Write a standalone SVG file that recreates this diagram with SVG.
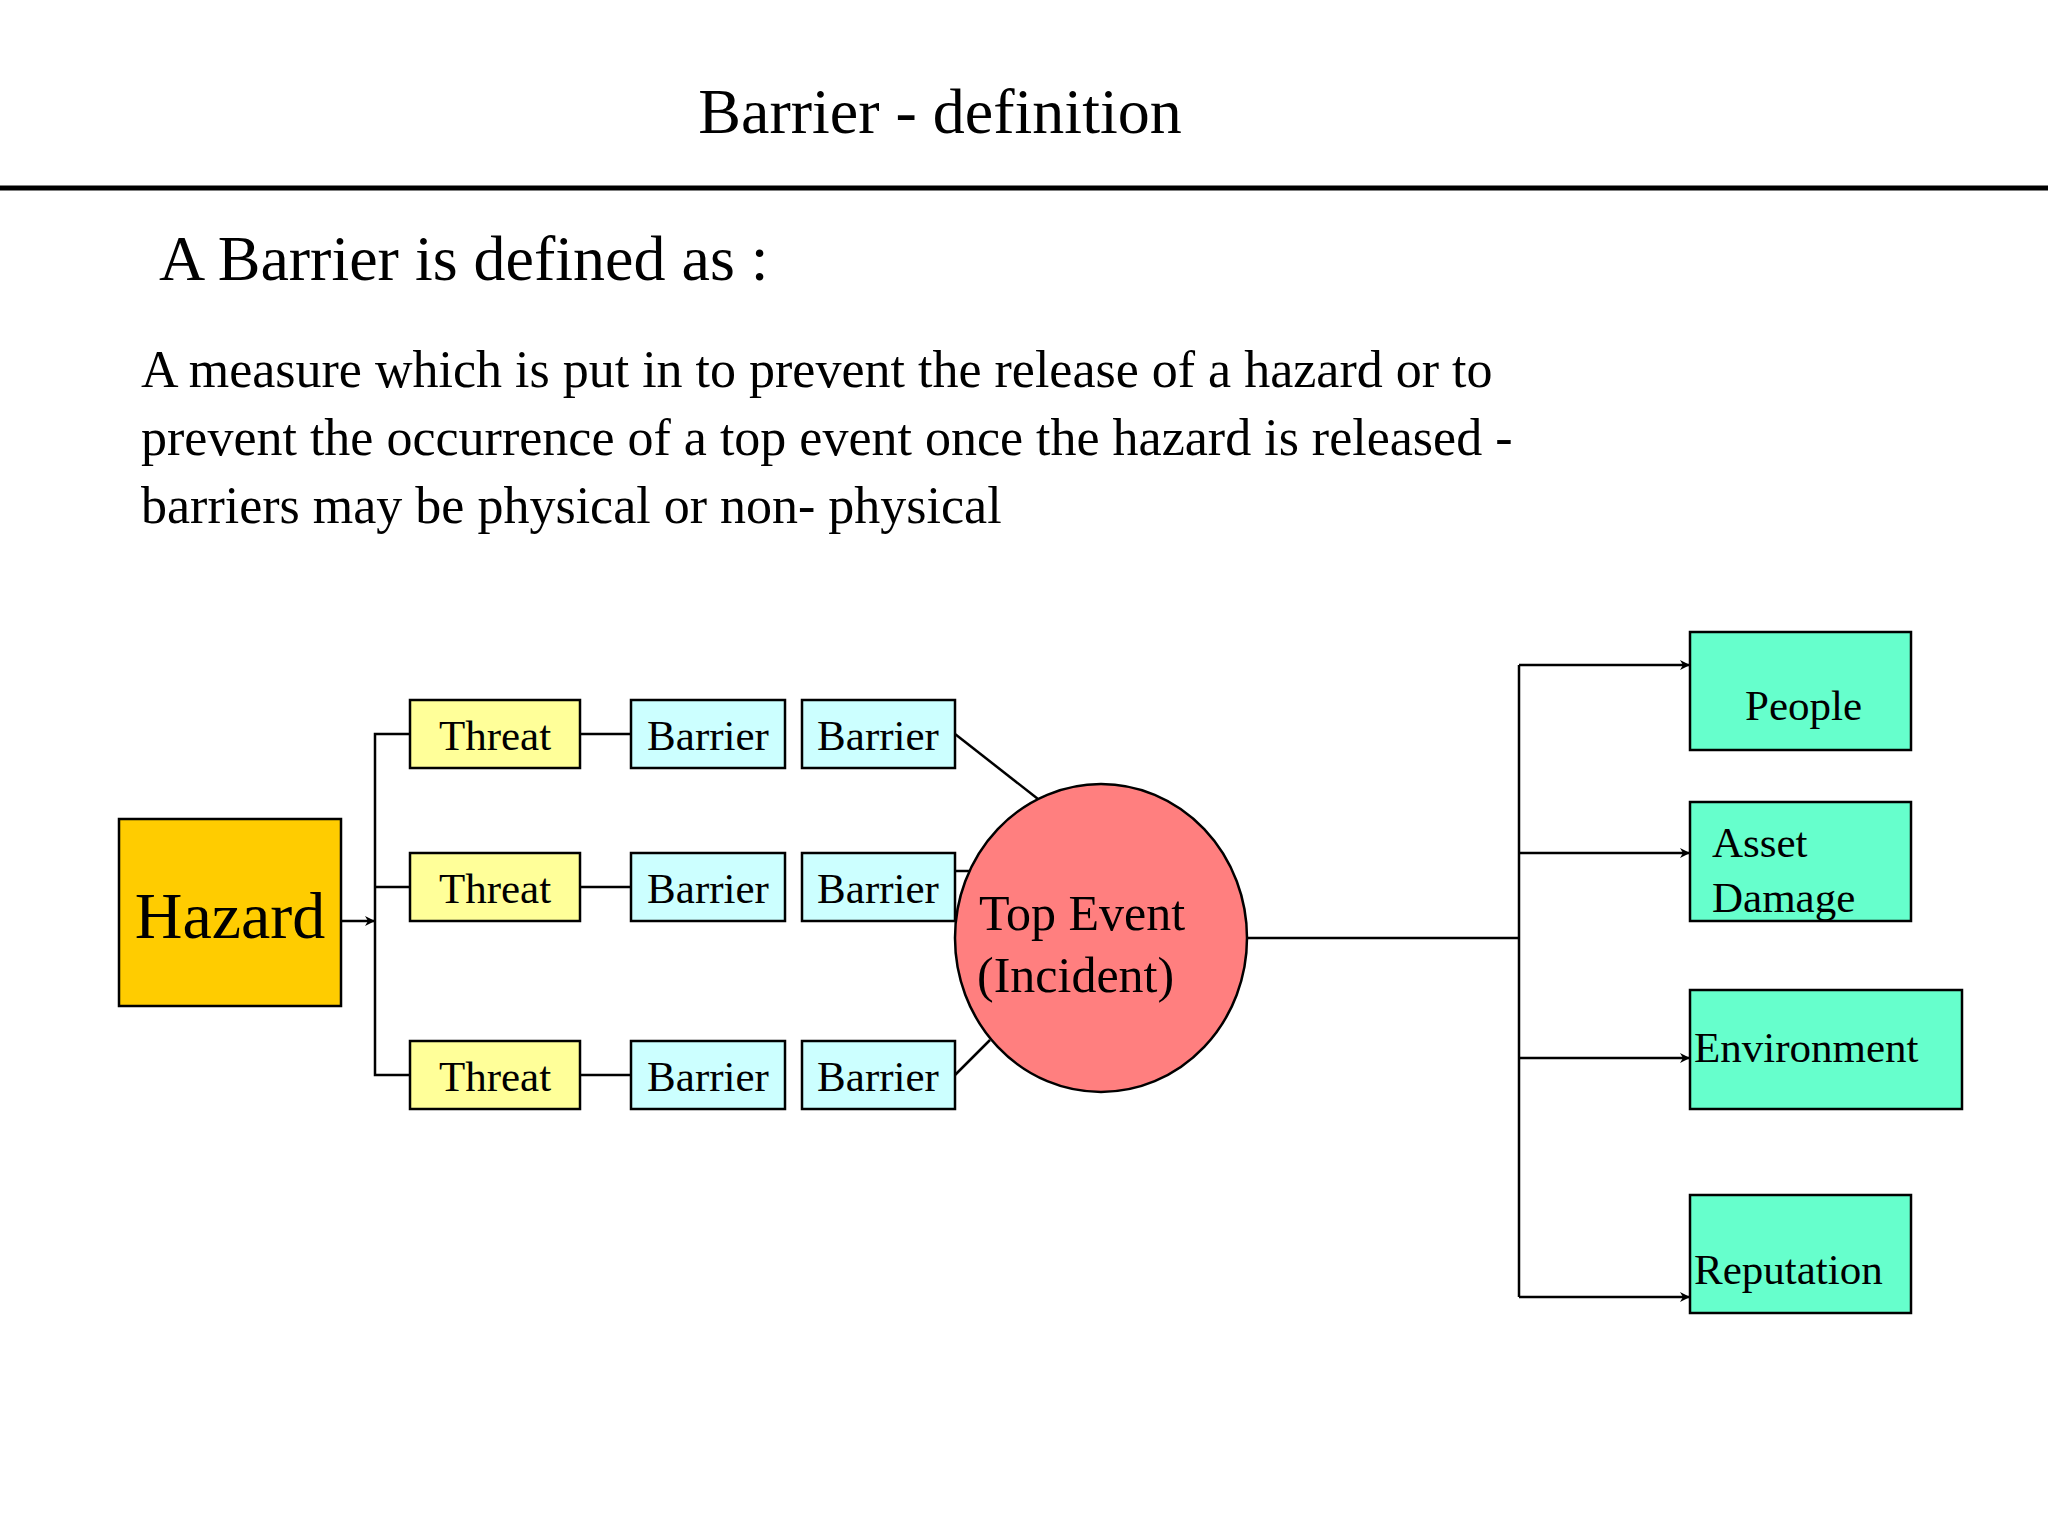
<svg xmlns="http://www.w3.org/2000/svg" width="2048" height="1536" viewBox="0 0 2048 1536">
<defs>
<marker id="ar" viewBox="0 0 10 10" refX="10" refY="5" markerWidth="10" markerHeight="10" markerUnits="userSpaceOnUse" orient="auto"><path d="M0,0 L10,5 L0,10 L3,5 z" fill="#000"/></marker>
</defs>
<style>
text{font-family:"Liberation Serif","Times New Roman",serif;fill:#000}
.b{stroke:#000;stroke-width:2.5}
.t{fill:#FFFF99}.br{fill:#CCFFFF}.c{fill:#66FFCC}
.l{stroke:#000;stroke-width:2.5;fill:none}
.s{font-size:43px}
</style>
<rect width="2048" height="1536" fill="#fff"/>
<text x="940" y="133" font-size="64" text-anchor="middle">Barrier - definition</text>
<line x1="0" y1="188" x2="2048" y2="188" stroke="#000" stroke-width="5"/>
<text x="159" y="280" font-size="64">A Barrier is defined as :</text>
<text font-size="52"><tspan x="141" y="387">A measure which is put in to prevent the release of a hazard or to</tspan><tspan x="141" y="455">prevent the occurrence of a top event once the hazard is released -</tspan><tspan x="141" y="523">barriers may be physical or non- physical</tspan></text>
<g id="connectors">
<line class="l" x1="341" y1="921" x2="375" y2="921" marker-end="url(#ar)"/>
<polyline class="l" points="410,734 375,734 375,1075 410,1075"/>
<line class="l" x1="375" y1="887" x2="410" y2="887"/>
<line class="l" x1="580" y1="734" x2="631" y2="734"/>
<line class="l" x1="580" y1="887" x2="631" y2="887"/>
<line class="l" x1="580" y1="1075" x2="631" y2="1075"/>
<line class="l" x1="955" y1="734" x2="1038" y2="799"/>
<line class="l" x1="955" y1="871" x2="969" y2="871"/>
<line class="l" x1="955" y1="1075" x2="990" y2="1040"/>
<line class="l" x1="1247" y1="938" x2="1519" y2="938"/>
<line class="l" x1="1519" y1="665" x2="1519" y2="1297"/>
<line class="l" x1="1519" y1="665" x2="1690" y2="665" marker-end="url(#ar)"/>
<line class="l" x1="1519" y1="853" x2="1690" y2="853" marker-end="url(#ar)"/>
<line class="l" x1="1519" y1="1058" x2="1690" y2="1058" marker-end="url(#ar)"/>
<line class="l" x1="1519" y1="1297" x2="1690" y2="1297" marker-end="url(#ar)"/>
</g>
<g id="hazard"><rect class="b" x="119" y="819" width="222" height="187" fill="#FFCC00"/><text x="230" y="938" font-size="66" text-anchor="middle">Hazard</text></g>
<g id="threat1"><rect class="b t" x="410" y="700" width="170" height="68"/><text class="s" x="495" y="750" text-anchor="middle">Threat</text></g>
<g id="threat2"><rect class="b t" x="410" y="853" width="170" height="68"/><text class="s" x="495" y="903" text-anchor="middle">Threat</text></g>
<g id="threat3"><rect class="b t" x="410" y="1041" width="170" height="68"/><text class="s" x="495" y="1091" text-anchor="middle">Threat</text></g>
<g id="barrier1a"><rect class="b br" x="631" y="700" width="154" height="68"/><text class="s" x="708" y="750" text-anchor="middle">Barrier</text></g>
<g id="barrier1b"><rect class="b br" x="802" y="700" width="153" height="68"/><text class="s" x="878" y="750" text-anchor="middle">Barrier</text></g>
<g id="barrier2a"><rect class="b br" x="631" y="853" width="154" height="68"/><text class="s" x="708" y="903" text-anchor="middle">Barrier</text></g>
<g id="barrier2b"><rect class="b br" x="802" y="853" width="153" height="68"/><text class="s" x="878" y="903" text-anchor="middle">Barrier</text></g>
<g id="barrier3a"><rect class="b br" x="631" y="1041" width="154" height="68"/><text class="s" x="708" y="1091" text-anchor="middle">Barrier</text></g>
<g id="barrier3b"><rect class="b br" x="802" y="1041" width="153" height="68"/><text class="s" x="878" y="1091" text-anchor="middle">Barrier</text></g>
<g id="topevent"><ellipse class="b" cx="1101" cy="938" rx="146" ry="154" fill="#FF7F7F"/><text font-size="50"><tspan x="979" y="930">Top Event</tspan><tspan x="977" y="992">(Incident)</tspan></text></g>
<g id="people"><rect class="b c" x="1690" y="632" width="221" height="118"/><text class="s" x="1745" y="720">People</text></g>
<g id="asset"><rect class="b c" x="1690" y="802" width="221" height="119"/><text class="s"><tspan x="1712" y="857">Asset</tspan><tspan x="1712" y="912">Damage</tspan></text></g>
<g id="environment"><rect class="b c" x="1690" y="990" width="272" height="119"/><text class="s" x="1694" y="1062">Environment</text></g>
<g id="reputation"><rect class="b c" x="1690" y="1195" width="221" height="118"/><text class="s" x="1694" y="1284">Reputation</text></g>
</svg>
